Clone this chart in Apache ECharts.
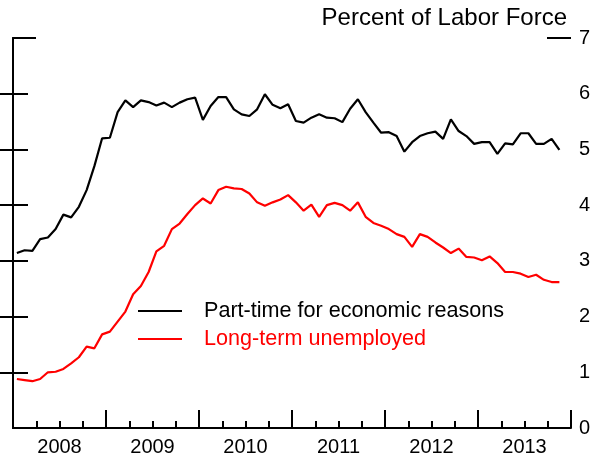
<!DOCTYPE html>
<html>
<head>
<meta charset="utf-8">
<script src="https://cdn.jsdelivr.net/npm/echarts@6/dist/echarts.min.js"></script>
<style>
  html, body { margin: 0; padding: 0; background: #fff; }
  #chart { width: 600px; height: 458px; }
</style>
</head>
<body>
<div id="chart"></div>
<script>
// Monthly data, Jan 2008 – Nov 2013 (percent of labor force)
var yearLabels = ['2008', '2009', '2010', '2011', '2012', '2013'];
var yTicks = [0, 1, 2, 3, 4, 5, 6, 7];
var seriesNames = ['Part-time for economic reasons', 'Long-term unemployed'];

var partTime = [
  3.14, 3.19, 3.18, 3.39, 3.42, 3.57, 3.83, 3.78, 3.97, 4.27, 4.70, 5.20,
  5.21, 5.67, 5.88, 5.76, 5.88, 5.85, 5.79, 5.84, 5.76, 5.84, 5.90, 5.93,
  5.53, 5.78, 5.94, 5.94, 5.72, 5.63, 5.60, 5.72, 5.99, 5.80, 5.74, 5.81,
  5.51, 5.48, 5.57, 5.63, 5.57, 5.56, 5.49, 5.73, 5.90, 5.67, 5.48, 5.30,
  5.31, 5.24, 4.96, 5.13, 5.24, 5.29, 5.32, 5.19, 5.54, 5.33, 5.24, 5.10,
  5.13, 5.13, 4.92, 5.11, 5.09, 5.29, 5.29, 5.10, 5.10, 5.19, 4.99
];

var longTerm = [
  0.88, 0.86, 0.84, 0.88, 1.00, 1.01, 1.06, 1.16, 1.27, 1.46, 1.43, 1.68,
  1.73, 1.91, 2.09, 2.40, 2.55, 2.80, 3.17, 3.27, 3.57, 3.67, 3.84, 4.00,
  4.12, 4.03, 4.27, 4.33, 4.30, 4.29, 4.21, 4.05, 3.99, 4.05, 4.10, 4.18,
  4.05, 3.90, 4.01, 3.79, 4.00, 4.04, 4.00, 3.90, 4.05, 3.79, 3.68, 3.63,
  3.57, 3.48, 3.43, 3.25, 3.48, 3.43, 3.33, 3.24, 3.14, 3.22, 3.07, 3.06,
  3.01, 3.08, 2.96, 2.80, 2.80, 2.77, 2.71, 2.75, 2.66, 2.62, 2.62
];

// x position: months since Jan 2008, plotted mid-month
function toXY(arr) {
  return arr.map(function (v, i) { return [i + 0.5, v]; });
}
var nMonths = yearLabels.length * 12;
var yearTicks = [], quarterTicks = [], yearLabelPos = [];
for (var k = 0; k <= yearLabels.length; k++) yearTicks.push(k * 12);
for (var q = 0; q < nMonths; q += 3) if (q % 12 !== 0) quarterTicks.push(q);
for (var k2 = 0; k2 < yearLabels.length; k2++) yearLabelPos.push(k2 * 12 + 6);

var FONT = "'Liberation Sans', Arial, sans-serif";
var chart = echarts.init(document.getElementById('chart'), null, { renderer: 'canvas' });

chart.setOption({
  animation: false,
  backgroundColor: '#ffffff',
  title: {
    text: 'Percent of Labor Force',
    right: 33,
    top: 6,
    padding: 0,
    textStyle: { fontFamily: FONT, fontSize: 24, fontWeight: 'normal', color: '#000' }
  },
  legend: {
    left: 138,
    top: 297,
    orient: 'vertical',
    icon: 'rect',
    itemWidth: 44,
    itemHeight: 2,
    itemGap: 0,
    padding: 0,
    textStyle: { fontFamily: FONT, fontSize: 21.6, lineHeight: 28, padding: [0, 0, 0, 17] },
    data: [
      { name: seriesNames[0], textStyle: { color: '#000' } },
      { name: seriesNames[1], textStyle: { color: '#ff0000' } }
    ]
  },
  grid: { left: 13, right: 29, top: 38, bottom: 30, containLabel: false },
  xAxis: [
    {
      type: 'value', min: 0, max: nMonths, position: 'bottom',
      axisLine: { show: true, onZero: false, lineStyle: { color: '#000', width: 2 } },
      axisTick: { show: true, inside: true, length: 18, customValues: yearTicks, lineStyle: { color: '#000', width: 2 } },
      axisLabel: {
        show: true, customValues: yearLabelPos, margin: 9,
        fontFamily: FONT, fontSize: 20, color: '#000',
        formatter: function (v) { return yearLabels[Math.floor(v / 12)]; }
      },
      splitLine: { show: false }
    },
    {
      type: 'value', min: 0, max: nMonths, position: 'bottom', gridIndex: 0,
      axisLine: { show: false },
      axisTick: { show: true, inside: true, length: 7, customValues: quarterTicks, lineStyle: { color: '#000', width: 2 } },
      axisLabel: { show: false },
      splitLine: { show: false }
    }
  ],
  yAxis: [
    {
      type: 'value', min: 0, max: 7, interval: 1, position: 'right',
      axisLine: { show: true, lineStyle: { color: '#000', width: 2 } },
      axisTick: { show: true, inside: true, length: 15, customValues: [1, 2, 3, 4, 5, 6], lineStyle: { color: '#000', width: 2 } },
      axisLabel: { show: true, customValues: yTicks, margin: 8, fontFamily: FONT, fontSize: 20, color: '#000' },
      splitLine: { show: false }
    },
    {
      type: 'value', min: 0, max: 7, interval: 1, position: 'left',
      axisLine: { show: true, lineStyle: { color: '#000', width: 2 } },
      axisTick: { show: true, inside: true, length: 15, customValues: [1, 2, 3, 4, 5, 6], lineStyle: { color: '#000', width: 2 } },
      axisLabel: { show: false },
      splitLine: { show: false }
    },
    {
      type: 'value', min: 0, max: 7, interval: 1, position: 'right',
      axisLine: { show: false },
      axisTick: { show: true, inside: true, length: 24, customValues: [7], lineStyle: { color: '#000', width: 2 } },
      axisLabel: { show: false },
      splitLine: { show: false }
    },
    {
      type: 'value', min: 0, max: 7, interval: 1, position: 'left',
      axisLine: { show: false },
      axisTick: { show: true, inside: true, length: 23, customValues: [7], lineStyle: { color: '#000', width: 2 } },
      axisLabel: { show: false },
      splitLine: { show: false }
    }
  ],
  series: [
    {
      name: seriesNames[0], type: 'line', xAxisIndex: 0, yAxisIndex: 0,
      data: toXY(partTime), symbol: 'none', smooth: false,
      lineStyle: { color: '#000', width: 2.2 }, itemStyle: { color: '#000' }
    },
    {
      name: seriesNames[1], type: 'line', xAxisIndex: 0, yAxisIndex: 0,
      data: toXY(longTerm), symbol: 'none', smooth: false,
      lineStyle: { color: '#ff0000', width: 2.2 }, itemStyle: { color: '#ff0000' }
    }
  ]
});
</script>
</body>
</html>
